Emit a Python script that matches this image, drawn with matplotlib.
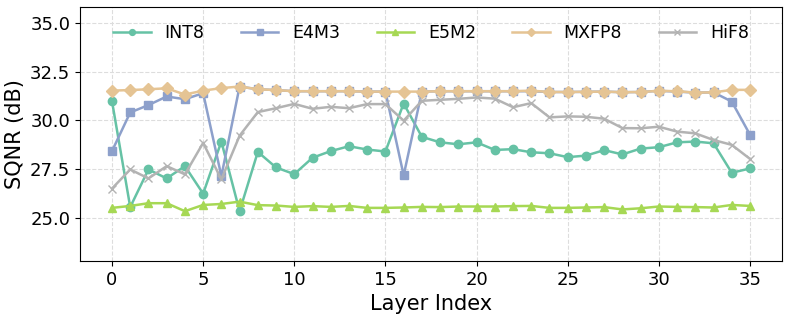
import matplotlib
matplotlib.use("Agg")
import matplotlib.pyplot as plt
import numpy as np

layers = list(range(36))

int8 = [30.99, 25.56, 27.49, 27.03, 27.66, 26.25, 28.92, 25.35, 28.39, 27.59,
        27.25, 28.09, 28.43, 28.68, 28.51, 28.41, 30.87, 29.16, 28.88, 28.78,
        28.88, 28.49, 28.53, 28.37, 28.32, 28.12, 28.20, 28.48, 28.26, 28.56,
        28.63, 28.88, 28.92, 28.83, 27.32, 27.54]

e4m3 = [28.43, 30.41, 30.79, 31.23, 31.09, 31.40, 27.15, 31.74, 31.60, 31.56,
        31.50, 31.50, 31.50, 31.50, 31.48, 31.48, 27.19, 31.48, 31.50, 31.50,
        31.50, 31.50, 31.50, 31.50, 31.46, 31.46, 31.47, 31.48, 31.45, 31.46,
        31.52, 31.48, 31.43, 31.44, 30.97, 29.27]

e5m2 = [25.52, 25.62, 25.76, 25.76, 25.35, 25.67, 25.72, 25.84, 25.66, 25.64,
        25.57, 25.61, 25.57, 25.62, 25.52, 25.52, 25.54, 25.57, 25.56, 25.59,
        25.59, 25.59, 25.61, 25.62, 25.52, 25.52, 25.54, 25.56, 25.44, 25.50,
        25.59, 25.57, 25.56, 25.54, 25.67, 25.62]

mxfp8 = [31.53, 31.56, 31.60, 31.65, 31.33, 31.53, 31.66, 31.74, 31.60, 31.56,
         31.50, 31.50, 31.50, 31.50, 31.48, 31.48, 31.48, 31.48, 31.50, 31.50,
         31.50, 31.50, 31.50, 31.53, 31.46, 31.46, 31.47, 31.48, 31.45, 31.46,
         31.52, 31.50, 31.43, 31.44, 31.57, 31.57]

hif8 = [26.51, 27.49, 27.03, 27.66, 27.24, 28.85, 26.98, 29.22, 30.43, 30.63,
        30.85, 30.60, 30.70, 30.63, 30.84, 30.84, 29.99, 31.01, 31.06, 31.11,
        31.18, 31.12, 30.68, 30.89, 30.16, 30.21, 30.19, 30.09, 29.61, 29.60,
        29.68, 29.43, 29.34, 29.00, 28.75, 28.03]

series = [
    ("INT8", int8, "#66c2a5", "o"),
    ("E4M3", e4m3, "#8da0cb", "s"),
    ("E5M2", e5m2, "#a6d854", "^"),
    ("MXFP8", mxfp8, "#e5c494", "D"),
    ("HiF8", hif8, "#b3b3b3", "x"),
]

fig = plt.figure(figsize=(7.93, 3.19), dpi=100)
ax = fig.add_axes([0.101, 0.182, 0.885, 0.795])

for name, vals, col, mk in series:
    ax.plot(layers, vals, color=col, marker=mk, markersize=6, linewidth=1.8,
            label=name)

ax.set_xlim(-1.75, 36.75)
ax.set_ylim(22.8, 35.8)
ax.set_xticks([0, 5, 10, 15, 20, 25, 30, 35])
ax.set_yticks([25.0, 27.5, 30.0, 32.5, 35.0])
ax.set_yticklabels(["25.0", "27.5", "30.0", "32.5", "35.0"])
ax.tick_params(labelsize=13)
ax.set_xlabel("Layer Index", fontsize=15)
ax.set_ylabel("SQNR (dB)", fontsize=15)
ax.grid(True, linestyle="--", color="#dddddd", linewidth=0.8)
ax.set_axisbelow(True)

ax.legend(loc="upper center", ncol=5, frameon=False, fontsize=12.5,
          columnspacing=2.1, handlelength=2.15, handletextpad=0.8,
          markerscale=0.7, bbox_to_anchor=(0.5, 0.995))

fig.savefig("out.png", dpi=100)
